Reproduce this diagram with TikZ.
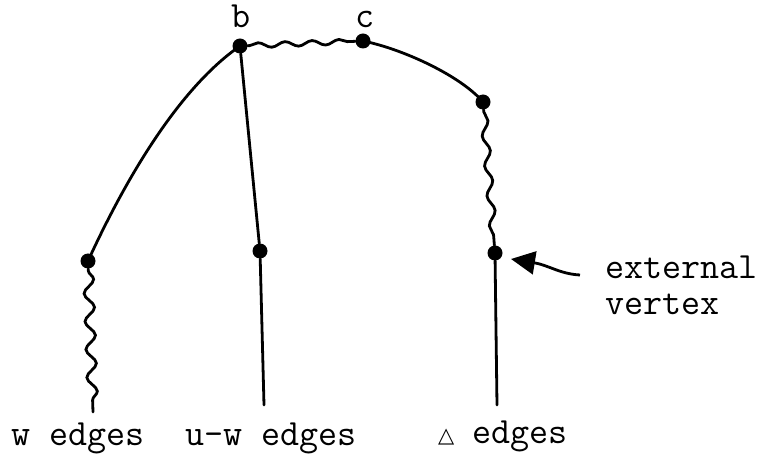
\documentclass[tikz,border=0pt]{standalone}
\usepackage{fontspec}
\newfontfamily\dejavu{DejaVu Sans}
\usetikzlibrary{decorations.pathmorphing,arrows.meta}
\begin{document}
\begin{tikzpicture}[x=1pt,y=1pt,
  dot/.style={circle,fill=black,inner sep=0pt,minimum size=15pt},
  edge/.style={line width=2.8pt,line cap=round},
  wave/.style={edge,decorate,decoration={snake,segment length=#1,amplitude=3.5pt,pre length=2pt,post length=2pt}},
  lbl/.style={font=\ttfamily\fontsize{37}{40}\selectfont,inner sep=0pt}]
\useasboundingbox (0,0) rectangle (764,464);
% vertices
\node[dot] (b) at (240,418) {};
\node[dot] (c) at (363,423) {};
\node[dot] (d) at (483,362) {};
\node[dot] (e) at (495,211) {};
\node[dot] (a) at (88,203) {};
\node[dot] (m) at (260,213) {};
\coordinate (aend) at (93,52);
\coordinate (mend) at (264,59);
\coordinate (eend) at (497,59);
% edges
\draw[edge] (a.center) .. controls (121,275) and (175,373) .. (b.center);
\draw[edge] (b) -- (m);
\draw[edge] (m) -- (mend);
\draw[edge] (c.center) .. controls (403,415) and (461,388) .. (d.center);
\draw[edge] (e) -- (eend);
\draw[wave=27pt,decoration={amplitude=2.5pt}] (b) -- (c);
\draw[wave=30pt] (d) -- (e);
\draw[wave=28pt,decoration={amplitude=5pt}] (a) -- (aend);
% arrow
\coordinate (tail) at (580,189);
\coordinate (tip) at (511,205);
\draw[line width=2.8pt,-{Triangle[length=24pt,width=23pt]}] (tail) .. controls (560,190) and (548,199) .. (tip);
% labels
\node[lbl,anchor=base] (lb) at (241,436) {b};
\node[lbl,anchor=base] (lc) at (365,436) {c};
\node[lbl,anchor=base west] (ext) at (605,185) {external};
\node[lbl,anchor=base west] (vtx) at (605,149) {vertex};
\node[lbl,anchor=base west] (lw) at (11,19) {w edges};
\node[lbl,anchor=base west] (luw) at (185,19) {u-w edges};
\node[lbl,anchor=base west] (ldelta) at (438,21) {{\dejavu\fontsize{21}{21}\selectfont △}\hspace{18pt}edges};
\end{tikzpicture}
\end{document}
